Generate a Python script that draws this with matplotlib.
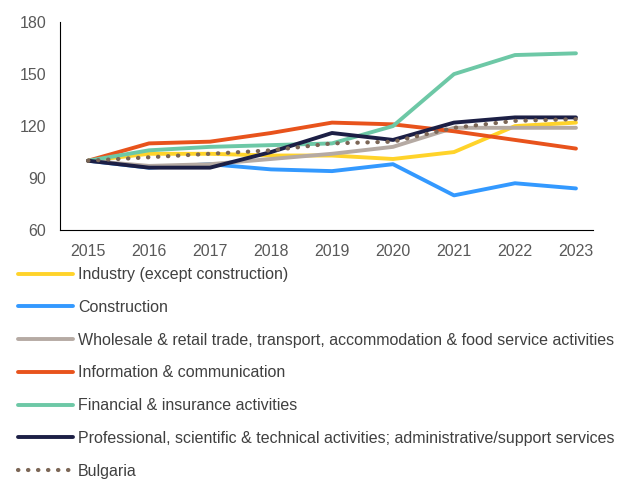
import matplotlib.pyplot as plt

plt.rcParams['font.family'] = ['Liberation Sans', 'DejaVu Sans']

# Data (index, 2015 = 100)
years = [2015, 2016, 2017, 2018, 2019, 2020, 2021, 2022, 2023]
industry = [100, 104, 104, 103, 103, 101, 105, 120, 122]
construction = [100, 96, 98, 95, 94, 98, 80, 87, 84]
wholesale = [100, 97, 98, 101, 104, 108, 119, 119, 119]
info_comm = [100, 110, 111, 116, 122, 121, 117, 112, 107]
financial = [100, 106, 108, 109, 110, 120, 150, 161, 162]
professional = [100, 96, 96, 105, 116, 112, 122, 125, 125]
bulgaria = [100, 102, 104, 106, 110, 111, 119, 123, 124]

labels = [
    "Industry (except construction)",
    "Construction",
    "Wholesale & retail trade, transport, accommodation & food service activities",
    "Information & communication",
    "Financial & insurance activities",
    "Professional, scientific & technical activities; administrative/support services",
    "Bulgaria",
]
colors = ["#ffd32a", "#3399ff", "#b5aaa3", "#e8531c", "#6dc8a6", "#1c1f45"]

fig = plt.figure(figsize=(6.18, 4.79), dpi=100)
ax = fig.add_axes([0.0971, 0.5198, 0.8625, 0.434])

series = [industry, construction, wholesale, info_comm, financial, professional]
for vals, lab, c in zip(series, labels[:-1], colors):
    ax.plot(years, vals, color=c, lw=2.8, label=lab, solid_capstyle='round')
ax.plot(years, bulgaria, color="#7b6656", lw=3, linestyle=(0, (0.1, 2.3)),
        dash_capstyle='round', label=labels[-1])

ax.set_ylim(60, 180)
ax.set_yticks([60, 90, 120, 150, 180])
ax.set_xlim(2014.54, 2023.28)
ax.set_xticks(years)
for s in ['top', 'right']:
    ax.spines[s].set_visible(False)
ax.spines['left'].set_color('#000000')
ax.spines['bottom'].set_color('#000000')
ax.tick_params(length=0, labelsize=11.5, colors='#595959')
ax.tick_params(axis='y', pad=10)
ax.tick_params(axis='x', pad=10)

fig.legend(loc='upper left', bbox_to_anchor=(0.029, 0.442), frameon=False,
           fontsize=11.5, handlelength=3.45, handletextpad=0.3,
           labelspacing=1.11, labelcolor='#404040', borderaxespad=0,
           borderpad=0)

fig.savefig("out.png", dpi=100)
